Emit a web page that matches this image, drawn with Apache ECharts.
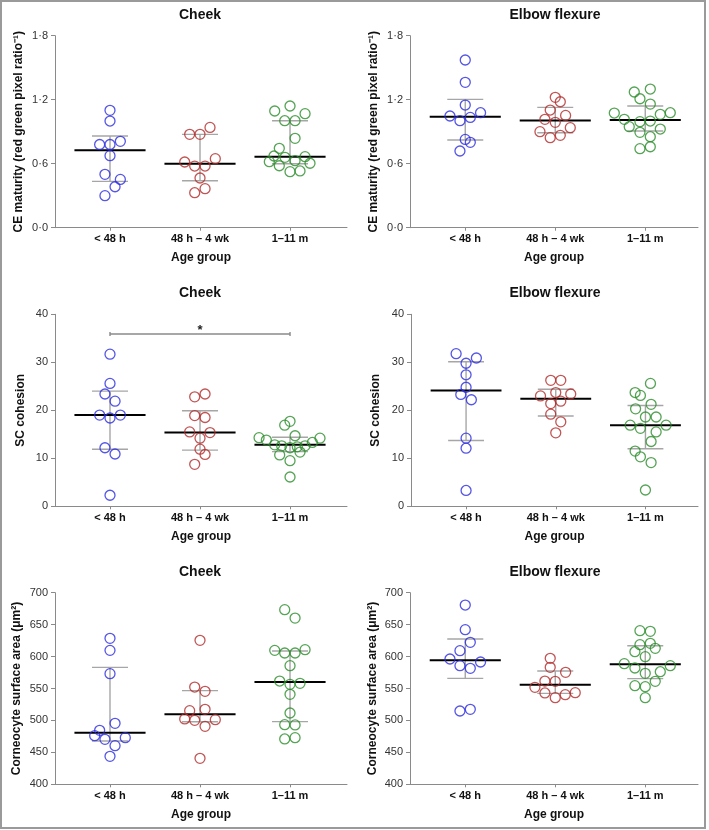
<!DOCTYPE html>
<html><head><meta charset="utf-8">
<script src="https://cdn.jsdelivr.net/npm/echarts@6/dist/echarts.min.js"></script>
<style>html,body{margin:0;padding:0;background:#fff}#c{width:709px;height:830px}</style>
</head><body><div id="c"></div><script>
// ---------- text ----------
const categories = ['< 48 h', '48 h \u2013 4 wk', '1\u201311 m'];
const panelTitles = ['Cheek', 'Elbow flexure', 'Cheek', 'Elbow flexure', 'Cheek', 'Elbow flexure'];
const ceAxisName = 'CE maturity (red green pixel ratio\u207B\u00B9)';
const scAxisName = 'SC cohesion';
const areaAxisName = 'Corneocyte surface area (\u03BCm\u00B2)';
const xAxisName = 'Age group';
const sigLabel = '*';

// ---------- tick labels ----------
const ceTicks = [0, 0.6, 1.2, 1.8];
const scTicks = [0, 10, 20, 30, 40];
const areaTicks = [400, 450, 500, 550, 600, 650, 700];

// ---------- Cheek: CE maturity ----------
const cheekCE_lt48 = [1.10, 1.00, 0.78, 0.78, 0.81, 0.675, 0.50, 0.453, 0.384, 0.30];
const cheekCE_lt48_jit = [0, 0, -0.115, 0, 0.115, 0, -0.056, 0.115, 0.056, -0.056];
const cheekCE_4wk = [0.875, 0.875, 0.94, 0.616, 0.578, 0.578, 0.647, 0.466, 0.366, 0.328];
const cheekCE_4wk_jit = [-0.115, 0, 0.111, -0.17, -0.059, 0.056, 0.17, 0, 0.056, -0.059];
const cheekCE_11m = [1.094, 1.141, 1.069, 1.003, 1.003, 0.838, 0.744, 0.672, 0.66, 0.628, 0.666, 0.619, 0.581, 0.604, 0.525, 0.532];
const cheekCE_11m_jit = [-0.17, 0, 0.167, -0.059, 0.056, 0.056, -0.119, -0.178, -0.056, 0.056, 0.167, -0.23, -0.119, 0.222, 0, 0.111];
const cheekCE_median = [0.725, 0.60, 0.666];
const cheekCE_q1 = [0.434, 0.44, 0.60];
const cheekCE_q3 = [0.859, 0.875, 1.003];

// ---------- Elbow: CE maturity ----------
const elbowCE_lt48 = [1.572, 1.3625, 1.15, 1.047, 1.078, 1.003, 1.034, 0.828, 0.80, 0.719];
const elbowCE_lt48_jit = [0, 0, 0, -0.17, 0.17, -0.059, 0.056, 0, 0.056, -0.059];
const elbowCE_4wk = [1.222, 1.181, 1.103, 1.016, 1.053, 0.9875, 0.90, 0.9375, 0.844, 0.866];
const elbowCE_4wk_jit = [0, 0.056, -0.056, -0.115, 0.115, 0, -0.17, 0.167, -0.056, 0.056];
const elbowCE_11m = [1.075, 1.272, 1.30, 1.209, 1.159, 1.016, 0.994, 1.0, 1.0625, 1.078, 0.947, 0.894, 0.925, 0.853, 0.741, 0.759];
const elbowCE_11m_jit = [-0.344, -0.122, 0.056, -0.059, 0.056, -0.233, -0.059, 0.056, 0.167, 0.278, -0.178, -0.059, 0.167, 0.056, -0.059, 0.056];
const elbowCE_median = [1.04, 1.006, 1.009];
const elbowCE_q1 = [0.822, 0.89, 0.906];
const elbowCE_q3 = [1.203, 1.128, 1.141];

// ---------- Cheek: SC cohesion ----------
const cheekSC_lt48 = [31.7, 25.6, 23.4, 21.9, 19.0, 18.4, 19.0, 12.2, 10.9, 2.3];
const cheekSC_lt48_jit = [0, 0, -0.056, 0.056, -0.115, 0, 0.115, -0.056, 0.056, 0];
const cheekSC_4wk = [22.8, 23.4, 18.9, 18.5, 15.5, 15.35, 14.2, 11.9, 10.8, 8.75];
const cheekSC_4wk_jit = [-0.059, 0.056, -0.059, 0.056, -0.115, 0.111, 0, 0, 0.056, -0.059];
const cheekSC_11m = [16.9, 17.7, 14.3, 13.8, 14.7, 14.2, 12.8, 12.6, 12.2, 12.4, 12.6, 13.3, 10.7, 11.3, 9.5, 6.1];
const cheekSC_11m_jit = [-0.059, 0, -0.344, -0.263, 0.056, 0.333, -0.17, -0.093, 0, 0.081, 0.167, 0.248, -0.115, 0.111, 0, 0];
const cheekSC_median = [19.0, 15.4, 12.8];
const cheekSC_q1 = [11.9, 11.7, 11.4];
const cheekSC_q3 = [24.0, 19.9, 14.4];
const cheekSC_sig = [1, 3, 35.9]; // from group, to group, height

// ---------- Elbow: SC cohesion ----------
const elbowSC_lt48 = [31.8, 30.9, 29.8, 27.4, 24.8, 23.3, 22.2, 14.2, 12.1, 3.3];
const elbowSC_lt48_jit = [-0.111, 0.115, 0, 0, 0, -0.059, 0.059, 0, 0, 0];
const elbowSC_4wk = [26.25, 26.25, 23.7, 23.0, 23.4, 21.4, 21.9, 19.2, 17.6, 15.3];
const elbowSC_4wk_jit = [-0.056, 0.056, 0, -0.17, 0.167, -0.056, 0.056, -0.056, 0.056, 0];
const elbowSC_11m = [23.7, 23.1, 25.6, 20.3, 21.25, 18.6, 18.6, 16.9, 16.25, 16.9, 15.5, 13.5, 11.5, 10.3, 9.1, 3.4];
const elbowSC_11m_jit = [-0.115, -0.056, 0.056, -0.11, 0.063, 0, 0.119, -0.17, -0.056, 0.23, 0.119, 0.063, -0.115, -0.056, 0.063, 0];
const elbowSC_median = [24.1, 22.4, 16.9];
const elbowSC_q1 = [13.7, 18.8, 12.0];
const elbowSC_q3 = [30.1, 24.4, 21.0];

// ---------- Cheek: corneocyte surface area ----------
const cheekArea_lt48 = [628.5, 609.7, 573.2, 495.5, 484.5, 476.2, 470.4, 473.0, 460.5, 443.8];
const cheekArea_lt48_jit = [0, 0, 0, 0.056, -0.115, -0.17, -0.056, 0.17, 0.056, 0];
const cheekArea_4wk = [625.4, 552.3, 545.6, 515.3, 517.4, 502.3, 500.2, 501.2, 490.8, 440.7];
const cheekArea_4wk_jit = [0, -0.059, 0.056, -0.115, 0.056, -0.17, -0.059, 0.17, 0.056, 0];
const cheekArea_11m = [673.4, 660.3, 609.7, 605.6, 605.6, 610.8, 585.7, 561.7, 556.5, 558.1, 540.9, 511.6, 493.4, 492.9, 471.0, 473.0];
const cheekArea_11m_jit = [-0.059, 0.056, -0.17, -0.059, 0.056, 0.167, 0, -0.115, 0, 0.111, 0, 0, -0.059, 0.056, -0.059, 0.056];
const cheekArea_median = [480.9, 509.6, 560.2];
const cheekArea_q1 = [467.8, 498.0, 498.1];
const cheekArea_q3 = [583.1, 546.6, 608.7];

// ---------- Elbow: corneocyte surface area ----------
const elbowArea_lt48 = [680.7, 642.1, 622.3, 609.2, 596.2, 591.5, 585.7, 581.6, 514.8, 517.4];
const elbowArea_lt48_jit = [0, 0, 0.056, -0.059, -0.17, 0.17, -0.059, 0.056, -0.059, 0.056];
const elbowArea_4wk = [597.2, 583.1, 575.3, 561.7, 561.2, 551.8, 543.0, 543.5, 540.3, 535.6];
const elbowArea_4wk_jit = [-0.056, -0.056, 0.115, -0.115, 0, -0.226, -0.115, 0.222, 0.111, 0];
const elbowArea_11m = [640.5, 639.5, 618.6, 620.7, 612.9, 607.6, 599.8, 588.9, 585.7, 582.1, 576.3, 573.7, 561.2, 554.4, 552.9, 535.6];
const elbowArea_11m_jit = [-0.059, 0.056, -0.059, 0.056, 0.111, -0.115, 0, -0.233, 0.278, -0.115, 0.167, 0, 0.111, -0.115, 0, 0];
const elbowArea_median = [594.1, 556.0, 587.8];
const elbowArea_q1 = [565.9, 542.4, 565.4];
const elbowArea_q3 = [627.5, 577.4, 617.0];

// ---------- styling / layout (not data) ----------
const FONT = '"Liberation Sans", Arial, Helvetica, sans-serif';
const groupColors = ['#2a2ae0', '#b22a2a', '#2a8c2a'];
const axisGray = '#8a8a8a';
const whiskerGray = '#a6a6a6';
const layout = [
  {left: 55, top: 35.7, width: 292, height: 192, xmin: 0.389, xmax: 3.633, nameGap: 30, tx: 200, ty: 15},
  {left: 410, top: 35.7, width: 288, height: 192, xmin: 0.386, xmax: 3.586, nameGap: 30, tx: 555, ty: 15},
  {left: 55, top: 314.3, width: 292, height: 192, xmin: 0.389, xmax: 3.633, nameGap: 28, tx: 200, ty: 293.5},
  {left: 411, top: 314.3, width: 287, height: 192, xmin: 0.386, xmax: 3.586, nameGap: 29, tx: 555, ty: 293.5},
  {left: 55, top: 592.7, width: 292, height: 191.6, xmin: 0.389, xmax: 3.633, nameGap: 32.5, tx: 200, ty: 572},
  {left: 410, top: 592.7, width: 288, height: 191.6, xmin: 0.386, xmax: 3.586, nameGap: 31, tx: 555, ty: 572}
];

const ceFmt = v => v.toFixed(1).replace('.', '\u00B7');
const plainFmt = v => String(v);

const panels = [
  {yName: ceAxisName, ticks: ceTicks, fmt: ceFmt,
   groups: [[cheekCE_lt48, cheekCE_lt48_jit], [cheekCE_4wk, cheekCE_4wk_jit], [cheekCE_11m, cheekCE_11m_jit]],
   med: cheekCE_median, q1: cheekCE_q1, q3: cheekCE_q3},
  {yName: ceAxisName, ticks: ceTicks, fmt: ceFmt,
   groups: [[elbowCE_lt48, elbowCE_lt48_jit], [elbowCE_4wk, elbowCE_4wk_jit], [elbowCE_11m, elbowCE_11m_jit]],
   med: elbowCE_median, q1: elbowCE_q1, q3: elbowCE_q3},
  {yName: scAxisName, ticks: scTicks, fmt: plainFmt,
   groups: [[cheekSC_lt48, cheekSC_lt48_jit], [cheekSC_4wk, cheekSC_4wk_jit], [cheekSC_11m, cheekSC_11m_jit]],
   med: cheekSC_median, q1: cheekSC_q1, q3: cheekSC_q3, sig: cheekSC_sig},
  {yName: scAxisName, ticks: scTicks, fmt: plainFmt,
   groups: [[elbowSC_lt48, elbowSC_lt48_jit], [elbowSC_4wk, elbowSC_4wk_jit], [elbowSC_11m, elbowSC_11m_jit]],
   med: elbowSC_median, q1: elbowSC_q1, q3: elbowSC_q3},
  {yName: areaAxisName, ticks: areaTicks, fmt: plainFmt,
   groups: [[cheekArea_lt48, cheekArea_lt48_jit], [cheekArea_4wk, cheekArea_4wk_jit], [cheekArea_11m, cheekArea_11m_jit]],
   med: cheekArea_median, q1: cheekArea_q1, q3: cheekArea_q3},
  {yName: areaAxisName, ticks: areaTicks, fmt: plainFmt,
   groups: [[elbowArea_lt48, elbowArea_lt48_jit], [elbowArea_4wk, elbowArea_4wk_jit], [elbowArea_11m, elbowArea_11m_jit]],
   med: elbowArea_median, q1: elbowArea_q1, q3: elbowArea_q3}
];

const grid = [], xAxis = [], yAxis = [], series = [], graphic = [];

panels.forEach((p, i) => {
  const L = layout[i];
  grid.push({left: L.left, top: L.top, width: L.width, height: L.height,
             containLabel: false, outerBoundsMode: 'none'});
  xAxis.push({
    type: 'value', gridIndex: i, min: L.xmin, max: L.xmax,
    axisLine: {show: true, lineStyle: {color: axisGray, width: 1}},
    axisTick: {show: true, length: 3, customValues: [1, 2, 3], lineStyle: {color: axisGray}},
    axisLabel: {customValues: [1, 2, 3], formatter: v => categories[Math.round(v) - 1],
                margin: 6, fontFamily: FONT, fontSize: 11, fontWeight: 'bold', color: '#111'},
    splitLine: {show: false},
    name: xAxisName, nameLocation: 'middle', nameGap: 24,
    nameTextStyle: {fontFamily: FONT, fontSize: 12, fontWeight: 'bold', color: '#111'}
  });
  const t = p.ticks;
  yAxis.push({
    type: 'value', gridIndex: i, min: t[0], max: t[t.length - 1], interval: t[1] - t[0],
    axisLine: {show: true, lineStyle: {color: axisGray, width: 1}},
    axisTick: {show: true, length: 4, lineStyle: {color: axisGray}},
    axisLabel: {formatter: p.fmt, margin: 7, fontFamily: FONT, fontSize: 11, color: '#333'},
    splitLine: {show: false},
    name: p.yName, nameLocation: 'middle', nameGap: L.nameGap,
    nameTextStyle: {fontFamily: FONT, fontSize: 12, fontWeight: 'bold', color: '#111'}
  });
  graphic.push({type: 'text', x: L.tx, y: L.ty, silent: true,
    style: {text: panelTitles[i], align: 'center', verticalAlign: 'middle',
            font: 'bold 14px ' + FONT, fill: '#111'}});

  // summary lines (median + interquartile range)
  series.push({
    type: 'custom', xAxisIndex: i, yAxisIndex: i, silent: true, z: 1,
    data: p.med.map((m, g) => [g + 1, m, p.q1[g], p.q3[g]]),
    renderItem: (params, api) => {
      const x = api.value(0);
      const m = api.coord([x, api.value(1)]);
      const lo = api.coord([x, api.value(2)]);
      const hi = api.coord([x, api.value(3)]);
      const hm = api.size([0.395, 0])[0];
      const hc = api.size([0.2, 0])[0];
      const gs = {stroke: whiskerGray, lineWidth: 1.4};
      return {type: 'group', children: [
        {type: 'line', shape: {x1: lo[0], y1: lo[1], x2: hi[0], y2: hi[1]}, style: gs},
        {type: 'line', shape: {x1: lo[0] - hc, y1: lo[1], x2: lo[0] + hc, y2: lo[1]}, style: gs},
        {type: 'line', shape: {x1: hi[0] - hc, y1: hi[1], x2: hi[0] + hc, y2: hi[1]}, style: gs},
        {type: 'line', shape: {x1: m[0] - hm, y1: m[1], x2: m[0] + hm, y2: m[1]},
         style: {stroke: '#000', lineWidth: 2}}
      ]};
    }
  });

  // individual points
  p.groups.forEach((gr, g) => {
    const vals = gr[0], jit = gr[1];
    series.push({
      type: 'scatter', xAxisIndex: i, yAxisIndex: i, z: 3,
      symbol: 'circle', symbolSize: 10,
      itemStyle: {color: 'rgba(255,255,255,0)', borderColor: groupColors[g], borderWidth: 1.3},
      emphasis: {disabled: true},
      data: vals.map((v, k) => [g + 1 + jit[k], v])
    });
  });

  // significance bracket
  if (p.sig) {
    series.push({
      type: 'custom', xAxisIndex: i, yAxisIndex: i, silent: true, z: 2,
      data: [p.sig],
      renderItem: (params, api) => {
        const a = api.coord([api.value(0), api.value(2)]);
        const b = api.coord([api.value(1), api.value(2)]);
        const st = {stroke: '#8a8a8a', lineWidth: 1.4};
        return {type: 'group', children: [
          {type: 'line', shape: {x1: a[0], y1: a[1], x2: b[0], y2: b[1]}, style: st},
          {type: 'line', shape: {x1: a[0], y1: a[1] - 2, x2: a[0], y2: a[1] + 2}, style: st},
          {type: 'line', shape: {x1: b[0], y1: b[1] - 2, x2: b[0], y2: b[1] + 2}, style: st},
          {type: 'text', style: {text: sigLabel, x: (a[0] + b[0]) / 2, y: a[1] - 4,
            align: 'center', verticalAlign: 'middle', font: 'bold 13px ' + FONT, fill: '#222'}}
        ]};
      }
    });
  }
});

// outer frame
graphic.push({type: 'rect', silent: true, z: -1,
  shape: {x: 1, y: 1, width: 704, height: 827},
  style: {fill: 'none', stroke: '#9a9a9a', lineWidth: 2}});

const chart = echarts.init(document.getElementById('c'), null, {renderer: 'canvas'});
chart.setOption({
  animation: false,
  backgroundColor: '#fff',
  grid, xAxis, yAxis, series, graphic,
  tooltip: {show: false}
});
</script></body></html>
